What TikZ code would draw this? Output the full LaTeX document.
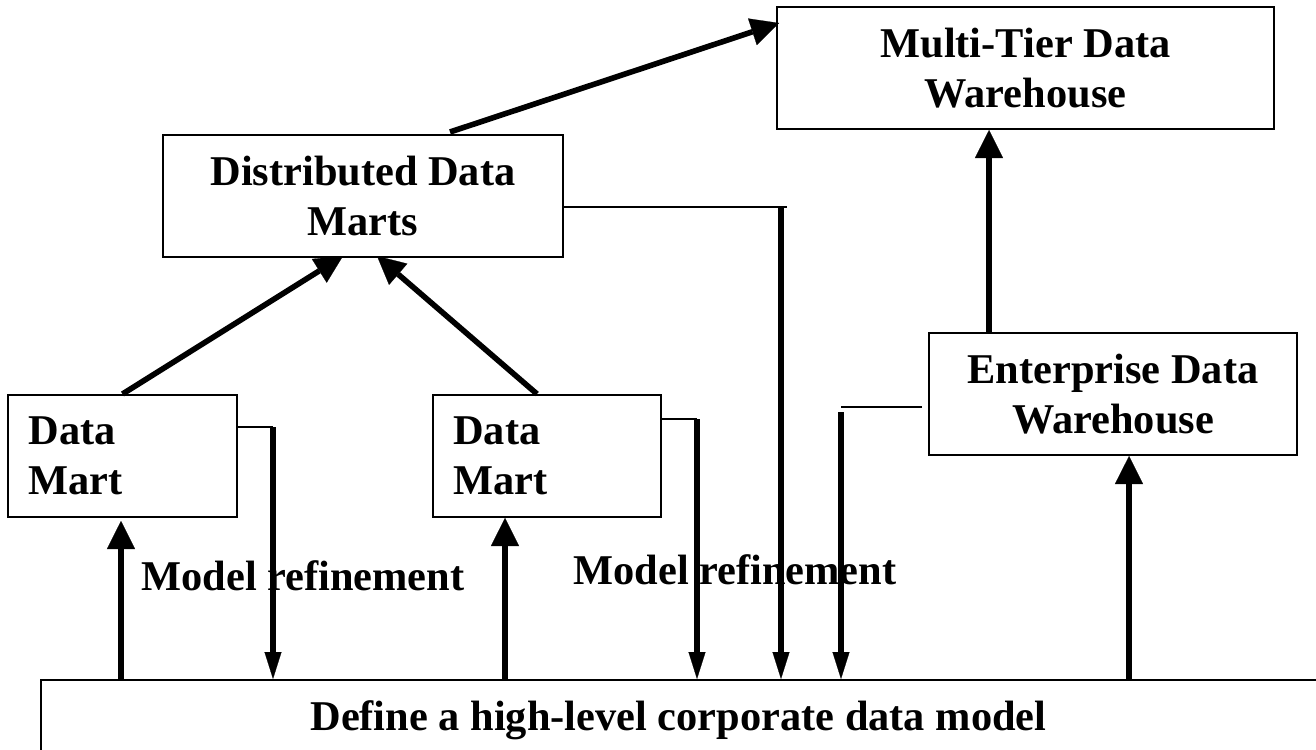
\documentclass[tikz,border=0pt]{standalone}
\usepackage{fontspec}
\setmainfont{Liberation Serif}
\usetikzlibrary{arrows.meta}
\begin{document}
\begin{tikzpicture}[x=0.5pt,y=-0.5pt,
  txt/.style={font=\bfseries\fontsize{21.2pt}{25pt}\selectfont},
  box/.style={txt, draw, line width=1pt, inner sep=0pt, align=center, minimum height=61pt},
  leftbox/.style={box, align=left, text width=93.75pt},
  lbl/.style={txt, inner sep=0pt, anchor=base west},
  bigarrow/.style={line width=2.8pt, -{Triangle[length=14pt,width=14pt,line width=0.1pt]}},
  downarrow/.style={line width=2.8pt, -{Triangle[length=13.5pt,width=8.5pt,line width=0.1pt]}},
  plainthick/.style={line width=2.8pt},
  thinline/.style={line width=0.9pt}
]
\useasboundingbox (0,0) rectangle (1316,749);
\clip (0,0) rectangle (1316,749);

% boxes
\node[box, minimum width=248.5pt] (mt) at (1025.5,68) {Multi-Tier Data\\Warehouse};
\node[box, minimum width=200pt] (dist) at (363,196) {Distributed Data\\Marts};
\node[box, minimum width=184pt] (edw) at (1113,394) {Enterprise Data\\Warehouse};
\node[leftbox, minimum width=114.5pt] (dm1) at (122.5,456) {Data\\Mart};
\node[leftbox, minimum width=114pt] (dm2) at (547,456) {Data\\Mart};
\node[draw, line width=1pt, inner sep=0pt, minimum width=650pt, minimum height=60pt] (model) at (691,740) {};
\node[lbl] (modeltxt) at (310,730) {Define a high-level corporate data model};

% labels
\node[lbl] (ref1) at (141,590) {Model refinement};
\node[lbl] (ref2) at (573,584) {Model refinement};

% x positions of vertical connectors
\coordinate (xa) at (121,0);
\coordinate (xb) at (273,0);
\coordinate (xc) at (505,0);
\coordinate (xd) at (697,0);
\coordinate (xf) at (781,0);
\coordinate (xf2) at (787,0);
\coordinate (xg) at (841,0);
\coordinate (xg2) at (922,0);
\coordinate (xh) at (1129,0);
\coordinate (xe) at (989,0);
% y positions of side connectors
\coordinate (ya) at (0,427);
\coordinate (yb) at (0,419);
\coordinate (yc) at (0,207);
\coordinate (yd) at (0,407);
\coordinate (yd2) at (0,412);

% diagonal arrows
\draw[bigarrow] (dm1.north) -- ([xshift=-10pt,yshift=1pt]dist.south);
\draw[bigarrow] ([xshift=-5pt]dm2.north) -- ([xshift=7pt,yshift=1pt]dist.south);
\draw[bigarrow] ([xshift=43.5pt,yshift=1pt]dist.north) -- ([xshift=1.5pt,yshift=22.5pt]mt.west);

% vertical up arrows
\draw[bigarrow] (xe |- edw.north) -- (xe |- mt.south);
\draw[bigarrow] (xa |- model.north) -- ([yshift=-1.5pt]xa |- dm1.south);
\draw[bigarrow] (xc |- model.north) -- (xc |- dm2.south);
\draw[bigarrow] (xh |- model.north) -- (xh |- edw.south);

% model refinement connectors
\draw[thinline] (dm1.east |- ya) -- (xb |- ya);
\draw[downarrow] (xb |- ya) -- (xb |- model.north);
\draw[thinline] (dm2.east |- yb) -- (xd |- yb);
\draw[downarrow] (xd |- yb) -- (xd |- model.north);
\draw[thinline] (dist.east |- yc) -- (xf2 |- yc);
\draw[downarrow] (xf |- yc) -- (xf |- model.north);
\draw[thinline] (xg2 |- yd) -- (xg |- yd);
\draw[downarrow] (xg |- yd2) -- (xg |- model.north);
\end{tikzpicture}
\end{document}
